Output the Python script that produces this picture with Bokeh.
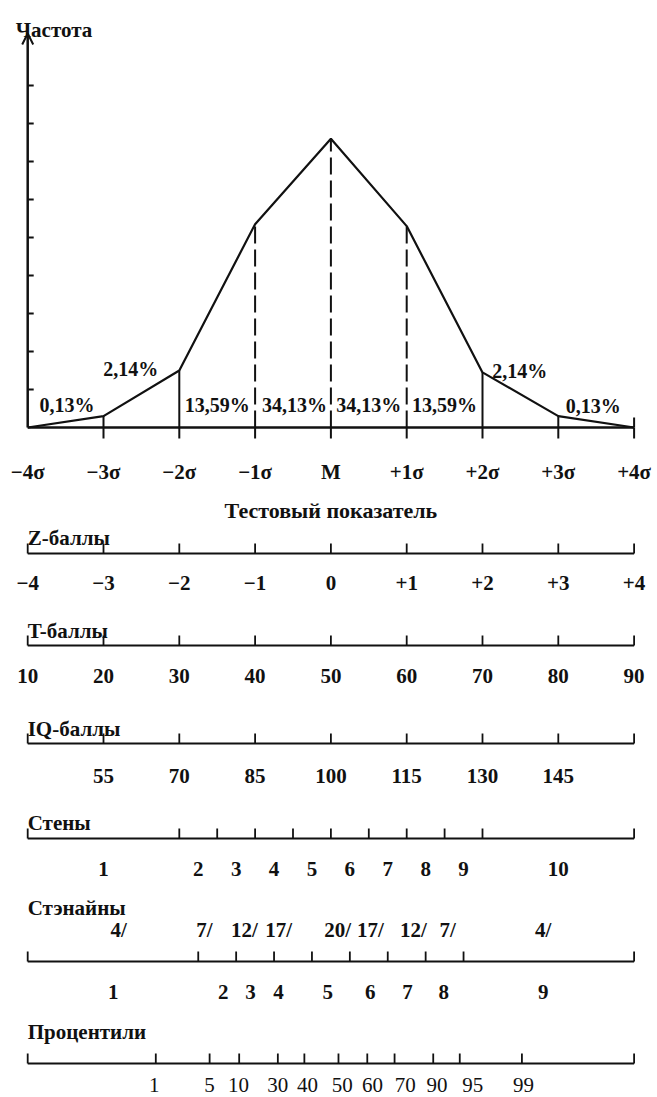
from bokeh.plotting import figure
from bokeh.models import Range1d, Arrow, OpenHead
from bokeh.core.properties import value
from bokeh.embed import file_html
from bokeh.resources import INLINE

# ---------------- data ----------------
sigma_pos = [-4, -3, -2, -1, 0, 1, 2, 3, 4]
sigma_labels = ["−4σ", "−3σ", "−2σ", "−1σ", "M", "+1σ", "+2σ", "+3σ", "+4σ"]
freq = [0, 0.3, 1.5, 5.35, 7.6, 5.3, 1.45, 0.3, 0]
dashed = [False, False, False, True, True, True, False, False, False]
freq_ticks = [1, 2, 3, 4, 5, 6, 7, 8, 9]

pct_text = ["0,13%", "2,14%", "13,59%", "34,13%", "34,13%", "13,59%", "2,14%", "0,13%"]
pct_x = [-3.48, -2.64, -1.5, -0.48, 0.5, 1.5, 2.49, 3.46]
pct_h = [0.58, 1.55, 0.58, 0.58, 0.58, 0.58, 1.5, 0.56]

z_labels = ["−4", "−3", "−2", "−1", "0", "+1", "+2", "+3", "+4"]
t_labels = ["10", "20", "30", "40", "50", "60", "70", "80", "90"]
iq_pos = [-3, -2, -1, 0, 1, 2, 3]
iq_labels = ["55", "70", "85", "100", "115", "130", "145"]

sten_bounds = [-4, -2, -1.5, -1, -0.5, 0, 0.5, 1, 1.5, 2, 4]
sten_labels = ["1", "2", "3", "4", "5", "6", "7", "8", "9", "10"]

stanine_bounds = [-4, -1.75, -1.25, -0.75, -0.25, 0.25, 0.75, 1.25, 1.75, 4]
stanine_labels = ["1", "2", "3", "4", "5", "6", "7", "8", "9"]
stanine_label_x = [-2.87, -1.42, -1.06, -0.69, -0.04, 0.52, 1.01, 1.49, 2.80]
stanine_share = ["4/", "7/", "12/", "17/", "20/", "17/", "12/", "7/", "4/"]
stanine_share_x = [-2.80, -1.67, -1.14, -0.69, 0.09, 0.52, 1.09, 1.54, 2.80]

pctl_ticks = [-4, -2.31, -1.60, -1.21, -0.70, -0.35, 0.10, 0.48, 0.84, 1.35, 1.70, 2.52, 4]
pctl_labels = ["1", "5", "10", "30", "40", "50", "60", "70", "90", "95", "99"]
pctl_label_x = [-2.33, -1.60, -1.22, -0.70, -0.31, 0.15, 0.55, 0.98, 1.40, 1.87, 2.54]

# ---------------- layout ----------------
W, H = 657, 1097
PX0, PXS = 330.4, 75.8        # x of M, px per sigma
BASE, FPX = 427, 38           # y of baseline, px per frequency unit
TOP = 33                      # y of arrow tip
FONT = value("Liberation Serif")
BLACK = "#111111"

p = figure(width=W, height=H,
           x_range=Range1d((0 - PX0) / PXS, (W - PX0) / PXS),
           y_range=Range1d(H, 0),
           x_axis_type=None, y_axis_type=None,
           toolbar_location=None, output_backend="svg",
           min_border=0, outline_line_color=None)
p.extra_y_ranges = {"freq": Range1d((BASE - H) / FPX, BASE / FPX)}
p.background_fill_color = "white"
p.border_fill_color = "white"


def txt(x, y, t, size="21px", align="center", style="bold", rng="default", **kw):
    p.text(x=x, y=y, text=t, text_font=FONT, text_font_size=size,
           text_font_style=style, text_align=align, text_baseline="alphabetic",
           text_color=BLACK, y_range_name=rng, **kw)


# ---- main frequency chart ----
p.segment(x0=[sigma_pos[0]], y0=[0], x1=[sigma_pos[-1]], y1=[0],
          line_width=2.5, line_color=BLACK, y_range_name="freq")
p.add_layout(Arrow(end=OpenHead(size=11, line_width=2, line_color=BLACK),
                   x_start=sigma_pos[0], y_start=0, x_end=sigma_pos[0],
                   y_end=(BASE - TOP) / FPX, line_width=2.5, line_color=BLACK,
                   y_range_name="freq"))
tick_dx = 6 / PXS
p.segment(x0=[sigma_pos[0]] * len(freq_ticks), y0=freq_ticks,
          x1=[sigma_pos[0] + tick_dx] * len(freq_ticks), y1=freq_ticks,
          line_width=2, line_color=BLACK, y_range_name="freq")
below = sigma_pos[1:]
p.segment(x0=below, y0=[0] * len(below), x1=below, y1=[-11 / FPX] * len(below),
          line_width=2, line_color=BLACK, y_range_name="freq")
p.segment(x0=[sigma_pos[-1]], y0=[0], x1=[sigma_pos[-1]], y1=[10 / FPX],
          line_width=2, line_color=BLACK, y_range_name="freq")
sx = [s for s, d, f in zip(sigma_pos, dashed, freq) if not d and f > 0]
sy = [f for s, d, f in zip(sigma_pos, dashed, freq) if not d and f > 0]
p.segment(x0=sx, y0=[0] * len(sx), x1=sx, y1=sy,
          line_width=2, line_color=BLACK, y_range_name="freq")
dx = [s for s, d in zip(sigma_pos, dashed) if d]
dy = [f for f, d in zip(freq, dashed) if d]
p.segment(x0=dx, y0=[0] * len(dx), x1=dx, y1=dy, line_dash="17 6",
          line_width=2, line_color=BLACK, y_range_name="freq")
p.line(sigma_pos, freq, line_width=2.2, line_color=BLACK, y_range_name="freq")
txt(pct_x, pct_h, pct_text, size="20px", rng="freq")
txt([sigma_pos[0]], [29], ["Частота"], size="21px", align="left", x_offset=-12)
txt(sigma_pos, [471] * len(sigma_pos), sigma_labels, size="21px")
txt([0], [510], ["Тестовый показатель"], size="22px")

# ---- scales ----
TICK = 10


def scale_row(title, title_y, line_y, ticks, lab_x, labels, lab_y,
              size="21px", style="bold"):
    txt([ticks[0]], [title_y], [title], size="21px", align="left")
    p.segment(x0=[ticks[0]], y0=[line_y], x1=[ticks[-1]], y1=[line_y],
              line_width=2.2, line_color=BLACK)
    p.segment(x0=ticks, y0=[line_y] * len(ticks), x1=ticks,
              y1=[line_y - TICK] * len(ticks), line_width=1.8, line_color=BLACK)
    txt(lab_x, [lab_y] * len(lab_x), labels, size=size, style=style)


scale_row("Z-баллы", 537, 553, sigma_pos, sigma_pos, z_labels, 582)
scale_row("T-баллы", 630, 645, sigma_pos, sigma_pos, t_labels, 675)
scale_row("IQ-баллы", 728, 743, sigma_pos, iq_pos, iq_labels, 775)
sten_mid = [(a + b) / 2 for a, b in zip(sten_bounds[:-1], sten_bounds[1:])]
scale_row("Стены", 822, 838, sten_bounds, sten_mid, sten_labels, 868)
scale_row("Стэнайны", 907, 961, stanine_bounds, stanine_label_x, stanine_labels, 991)
txt(stanine_share_x, [929] * len(stanine_share_x), stanine_share, size="21px")
scale_row("Процентили", 1031, 1063, pctl_ticks, pctl_label_x, pctl_labels, 1084,
          size="21px", style="normal")

open("out.html", "w").write(file_html(p, INLINE))
